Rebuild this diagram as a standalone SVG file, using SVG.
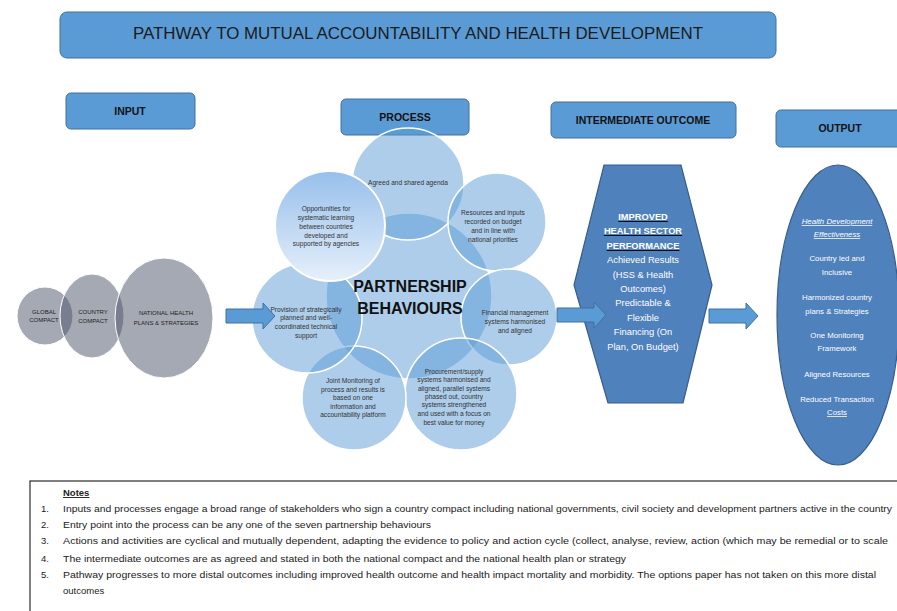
<svg xmlns="http://www.w3.org/2000/svg" width="897" height="611" viewBox="0 0 897 611">
<style>
  text{font-family:"Liberation Sans",Arial,sans-serif;}
  .hdr{fill:#5b9bd5;stroke:#41719c;stroke-width:1;}
  .hl{font-size:10.5px;font-weight:bold;fill:#111;text-anchor:middle;}
  .grey{fill:#4b5369;fill-opacity:0.5;stroke:#ffffff;stroke-width:1;}
  .gt{font-size:6px;fill:#222;text-anchor:middle;}
  .pc{fill:#5b9bd5;fill-opacity:0.5;stroke:#ffffff;stroke-width:1.5;}
  .pt{font-size:6.6px;fill:#333;text-anchor:middle;}
  .arrow{fill:#5b9bd5;stroke:#41719c;stroke-width:1;}
  .dark{fill:#4f81bd;stroke:#385d8a;stroke-width:1.2;}
  .wt{font-size:9.3px;fill:#fff;text-anchor:middle;}
  .ot{font-size:7.8px;fill:#fff;text-anchor:middle;}
  .nt{font-size:9.5px;fill:#222;}
</style>
<defs>
  <linearGradient id="opg" x1="0" y1="0" x2="0" y2="1">
    <stop offset="0" stop-color="#97bfec"/>
    <stop offset="1" stop-color="#e6f0fa"/>
  </linearGradient>
  <path id="arr" d="M0,-7 H37 V-13 L49,0 L37,13 V7 H0 Z"/>
</defs>

<g id="title">
  <rect class="hdr" x="60" y="12" width="716" height="46" rx="7"/>
  <text x="418" y="39" font-size="16" fill="#1a1a1a" text-anchor="middle" textLength="570" lengthAdjust="spacingAndGlyphs">PATHWAY TO MUTUAL ACCOUNTABILITY AND HEALTH DEVELOPMENT</text>
</g>
<g id="input-header">
  <rect class="hdr" x="66" y="93" width="129" height="36" rx="5"/>
  <text class="hl" x="130" y="115">INPUT</text>
</g>
<g id="process-header">
  <rect class="hdr" x="341" y="99" width="128" height="36" rx="5"/>
  <text class="hl" x="405" y="121">PROCESS</text>
</g>
<g id="intermediate-header">
  <rect class="hdr" x="551" y="102" width="185" height="36" rx="5"/>
  <text class="hl" x="643" y="124">INTERMEDIATE OUTCOME</text>
</g>
<g id="output-header">
  <rect class="hdr" x="776" y="110" width="130" height="37" rx="5"/>
  <text class="hl" x="840" y="132">OUTPUT</text>
</g>

<g id="global-compact">
  <ellipse class="grey" cx="45" cy="316" rx="28" ry="29"/>
  <text class="gt" x="44" y="314">GLOBAL</text>
  <text class="gt" x="44" y="322">COMPACT</text>
</g>
<g id="country-compact">
  <ellipse class="grey" cx="92" cy="316" rx="32" ry="42"/>
  <text class="gt" x="93" y="314">COUNTRY</text>
  <text class="gt" x="93" y="323">COMPACT</text>
</g>
<g id="national-plans">
  <ellipse class="grey" cx="164" cy="318" rx="49" ry="60"/>
  <text class="gt" x="166" y="315">NATIONAL HEALTH</text>
  <text class="gt" x="166" y="325">PLANS &amp; STRATEGIES</text>
</g>

<g id="process-circles">
  <circle class="pc" cx="409" cy="296" r="83"/>
  <circle class="pc" cx="408" cy="184" r="56"/>
  <circle class="pc" cx="497" cy="222" r="49"/>
  <circle class="pc" cx="509" cy="317" r="48"/>
  <circle class="pc" cx="461" cy="394" r="56"/>
  <circle class="pc" cx="354" cy="398" r="52"/>
  <circle class="pc" cx="307" cy="318" r="55"/>
</g>
<g id="opportunities">
  <circle cx="330" cy="226" r="55" fill="url(#opg)" stroke="#ffffff" stroke-width="2"/>
  <text class="pt" x="326" y="211">Opportunities for</text>
  <text class="pt" x="326" y="220">systematic learning</text>
  <text class="pt" x="326" y="229">between countries</text>
  <text class="pt" x="326" y="238">developed and</text>
  <text class="pt" x="326" y="246">supported by agencies</text>
</g>
<g id="partnership-behaviours">
  <text x="410" y="292" font-size="16" font-weight="bold" fill="#111" text-anchor="middle">PARTNERSHIP</text>
  <text x="410" y="314" font-size="16" font-weight="bold" fill="#111" text-anchor="middle">BEHAVIOURS</text>
</g>
<g id="agreed-agenda">
  <text class="pt" x="408" y="185">Agreed and shared agenda</text>
</g>
<g id="resources-inputs">
  <text class="pt" x="493" y="215">Resources and inputs</text>
  <text class="pt" x="493" y="224">recorded on budget</text>
  <text class="pt" x="493" y="233">and in line with</text>
  <text class="pt" x="493" y="242">national priorities</text>
</g>
<g id="financial-management">
  <text class="pt" x="515" y="315">Financial management</text>
  <text class="pt" x="515" y="324">systems harmonised</text>
  <text class="pt" x="515" y="333">and aligned</text>
</g>
<g id="procurement">
  <text class="pt" x="454" y="374">Procurement/supply</text>
  <text class="pt" x="454" y="382">systems harmonised and</text>
  <text class="pt" x="454" y="391">aligned, parallel systems</text>
  <text class="pt" x="454" y="399">phased out, country</text>
  <text class="pt" x="454" y="407">systems strengthened</text>
  <text class="pt" x="454" y="416">and used with a focus on</text>
  <text class="pt" x="454" y="425">best value for money</text>
</g>
<g id="joint-monitoring">
  <text class="pt" x="353" y="383">Joint Monitoring of</text>
  <text class="pt" x="353" y="392">process and results is</text>
  <text class="pt" x="353" y="400">based on one</text>
  <text class="pt" x="353" y="409">information and</text>
  <text class="pt" x="353" y="417">accountability platform</text>
</g>
<g id="technical-support">
  <text class="pt" x="306" y="312">Provision of strategically</text>
  <text class="pt" x="306" y="320">planned and well-</text>
  <text class="pt" x="306" y="329">coordinated technical</text>
  <text class="pt" x="306" y="338">support</text>
</g>

<g id="intermediate-outcome">
  <polygon class="dark" points="604,165 681,165 712,285 683,403 608,403 574,285"/>
  <g font-weight="bold" text-decoration="underline">
    <text class="wt" x="643" y="220">IMPROVED</text>
    <text class="wt" x="643" y="234">HEALTH SECTOR</text>
    <text class="wt" x="643" y="249">PERFORMANCE</text>
  </g>
  <text class="wt" x="643" y="263">Achieved Results</text>
  <text class="wt" x="643" y="278">(HSS &amp; Health</text>
  <text class="wt" x="643" y="292">Outcomes)</text>
  <text class="wt" x="643" y="306">Predictable &amp;</text>
  <text class="wt" x="643" y="321">Flexible</text>
  <text class="wt" x="643" y="335">Financing (On</text>
  <text class="wt" x="643" y="350">Plan, On Budget)</text>
</g>

<g id="output">
  <ellipse class="dark" cx="838" cy="315" rx="61" ry="150"/>
  <text class="ot" x="837" y="224" font-style="italic" text-decoration="underline">Health Development</text>
  <text class="ot" x="837" y="237" font-style="italic" text-decoration="underline">Effectiveness</text>
  <text class="ot" x="837" y="261">Country led and</text>
  <text class="ot" x="837" y="275">Inclusive</text>
  <text class="ot" x="837" y="300">Harmonized country</text>
  <text class="ot" x="837" y="314">plans &amp; Strategies</text>
  <text class="ot" x="837" y="338">One Monitoring</text>
  <text class="ot" x="837" y="351">Framework</text>
  <text class="ot" x="837" y="377">Aligned Resources</text>
  <text class="ot" x="837" y="402">Reduced Transaction</text>
  <text class="ot" x="837" y="415" text-decoration="underline">Costs</text>
</g>

<g id="connectors">
  <use href="#arr" class="arrow" transform="translate(226,316)"/>
  <use href="#arr" class="arrow" transform="translate(557,315)"/>
  <use href="#arr" class="arrow" transform="translate(709,316)"/>
</g>

<g id="notes">
  <rect x="30" y="481" width="880" height="140" fill="#fff" stroke="#000" stroke-width="1"/>
  <text class="nt" x="63" y="496" font-weight="bold" text-decoration="underline">Notes</text>
  <text class="nt" x="41" y="512">1.</text>
  <text class="nt" x="63" y="512" textLength="829" lengthAdjust="spacingAndGlyphs">Inputs and processes engage a broad range of stakeholders who sign a country compact including national governments, civil society and development partners active in the country</text>
  <text class="nt" x="41" y="528">2.</text>
  <text class="nt" x="63" y="528" textLength="368" lengthAdjust="spacingAndGlyphs" fill="#000">Entry point into the process can be any one of the seven partnership behaviours</text>
  <text class="nt" x="41" y="544">3.</text>
  <text class="nt" x="63" y="544" textLength="825" lengthAdjust="spacingAndGlyphs">Actions and activities are cyclical and mutually dependent, adapting the evidence to policy and action cycle (collect, analyse, review, action (which may be remedial or to scale</text>
  <text class="nt" x="41" y="562">4.</text>
  <text class="nt" x="63" y="562" textLength="563" lengthAdjust="spacingAndGlyphs">The intermediate outcomes are as agreed and stated in both the national compact and the national health plan or strategy</text>
  <text class="nt" x="41" y="578">5.</text>
  <text class="nt" x="63" y="578" textLength="813" lengthAdjust="spacingAndGlyphs">Pathway progresses to more distal outcomes including improved health outcome and health impact mortality and morbidity.  The options paper has not taken on this more distal</text>
  <text class="nt" x="63" y="594">outcomes</text>
</g>
</svg>
